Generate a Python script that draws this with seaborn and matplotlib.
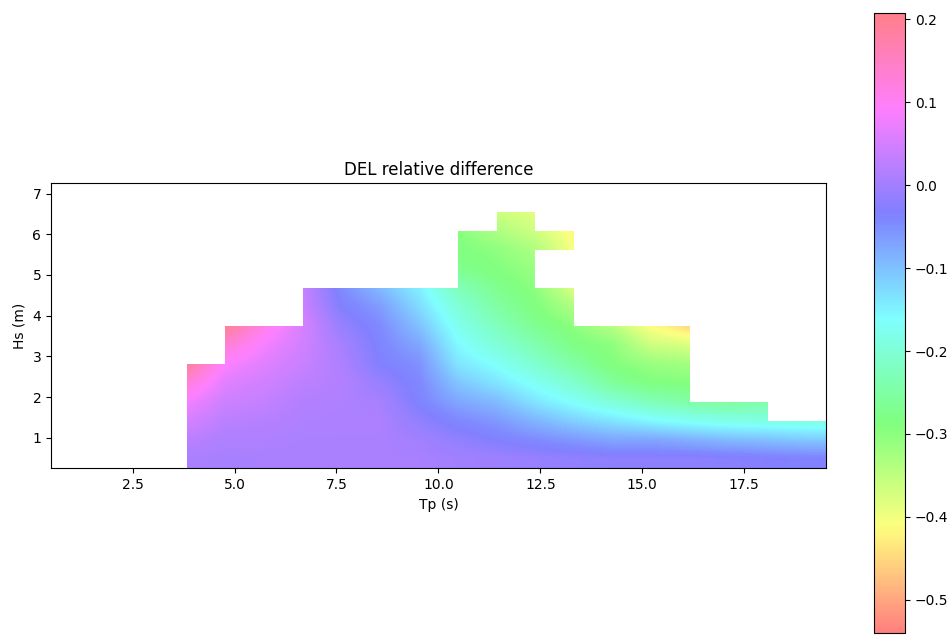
import numpy as np
import matplotlib
matplotlib.use("Agg")
import matplotlib.pyplot as plt
import seaborn as sns

sns.set_style("ticks", {"axes.edgecolor": "black", "text.color": "black",
                        "axes.labelcolor": "black", "xtick.color": "black",
                        "ytick.color": "black"})

nan = np.nan

# grid extent: Tp (s) and Hs (m)
tp_range = [0.5, 19.5]
hs_range = [0.25, 7.25]

# colour scale limits of the relative difference
del_min = -0.54
del_max = 0.207

# DEL relative difference per bin, one row per Hs bin (lowest Hs first), 20 Tp bins
del_rel = [
    [nan, nan, nan, 0.008, 0.004, 0.006, 0.006, 0.006, 0.006, 0.006, -0.001, -0.005, -0.011, -0.017, -0.021, -0.021, -0.021, -0.025, -0.030, -0.034],
    [nan, nan, nan, 0.024, 0.012, 0.012, 0.008, 0.008, 0.008, -0.001, -0.017, -0.032, -0.046, -0.059, -0.073, -0.073, -0.084, -0.094, -0.100, -0.108],
    [nan, nan, nan, 0.051, 0.024, 0.020, 0.012, 0.010, 0.010, -0.017, -0.042, -0.059, -0.088, -0.115, -0.135, -0.156, -0.171, -0.183, -0.187, -0.191],
    [nan, nan, nan, 0.083, 0.041, 0.033, 0.016, 0.012, 0.004, -0.036, -0.073, -0.094, -0.135, -0.167, -0.198, -0.229, -0.250, -0.260, -0.245, nan],
    [nan, nan, nan, 0.130, 0.062, 0.045, 0.026, 0.016, -0.011, -0.042, -0.104, -0.135, -0.171, -0.208, -0.260, -0.287, -0.291, nan, nan, nan],
    [nan, nan, nan, 0.195, 0.090, 0.062, 0.037, 0.012, -0.032, -0.052, -0.135, -0.167, -0.208, -0.250, -0.291, -0.312, -0.322, nan, nan, nan],
    [nan, nan, nan, nan, 0.135, 0.083, 0.045, 0.004, -0.038, -0.073, -0.156, -0.198, -0.239, -0.281, -0.301, -0.364, -0.378, nan, nan, nan],
    [nan, nan, nan, nan, 0.200, 0.114, 0.051, -0.011, -0.046, -0.100, -0.177, -0.225, -0.270, -0.301, -0.343, -0.415, -0.453, nan, nan, nan],
    [nan, nan, nan, nan, nan, nan, 0.041, -0.032, -0.063, -0.125, -0.198, -0.250, -0.287, -0.333, nan, nan, nan, nan, nan, nan],
    [nan, nan, nan, nan, nan, nan, 0.037, -0.046, -0.094, -0.146, -0.229, -0.270, -0.301, -0.378, nan, nan, nan, nan, nan, nan],
    [nan, nan, nan, nan, nan, nan, nan, nan, nan, nan, -0.270, -0.291, -0.312, nan, nan, nan, nan, nan, nan, nan],
    [nan, nan, nan, nan, nan, nan, nan, nan, nan, nan, -0.287, -0.301, -0.333, -0.405, nan, nan, nan, nan, nan, nan],
    [nan, nan, nan, nan, nan, nan, nan, nan, nan, nan, -0.295, -0.333, -0.364, -0.420, nan, nan, nan, nan, nan, nan],
    [nan, nan, nan, nan, nan, nan, nan, nan, nan, nan, nan, -0.364, -0.384, nan, nan, nan, nan, nan, nan, nan],
    [nan] * 20,
]

fig = plt.figure(figsize=(9.5, 6.35), dpi=100)
ax = fig.add_axes([0.0537, 0.2625, 0.8155, 0.4488])
cax = fig.add_axes([0.92, 0.003, 0.0326, 0.976])

im = ax.imshow(np.array(del_rel), origin="lower", cmap="hsv", alpha=0.5,
               extent=[*tp_range, *hs_range], aspect="auto",
               interpolation="bilinear", interpolation_stage="data",
               vmin=del_min, vmax=del_max)
ax.set_xlim(tp_range)
ax.set_ylim(hs_range)
ax.set_xlabel("Tp (s)")
ax.set_ylabel("Hs (m)")
ax.set_title("DEL relative difference")

fig.colorbar(im, cax=cax)

fig.savefig("out.png", dpi=100)
